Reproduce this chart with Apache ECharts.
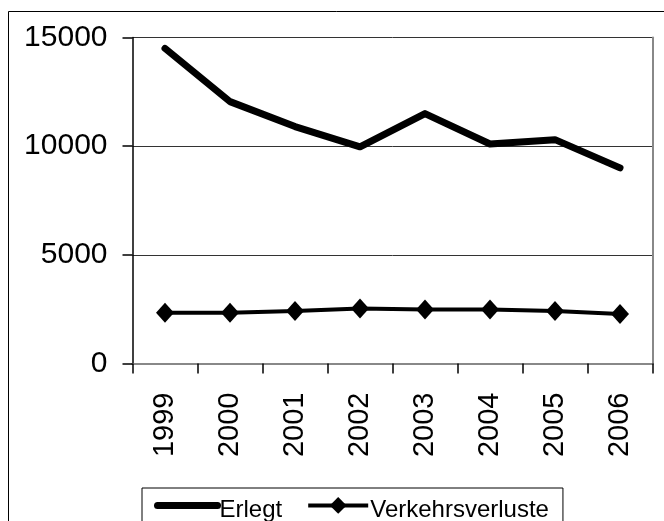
<!DOCTYPE html>
<html><head><meta charset="utf-8">
<script src="https://cdn.jsdelivr.net/npm/echarts@6/dist/echarts.min.js"></script>
<style>html,body{margin:0;padding:0;background:#fff}#c{width:664px;height:521px}</style>
</head><body><div id="c"></div>
<script>
const years = ['1999', '2000', '2001', '2002', '2003', '2004', '2005', '2006'];
const erlegt = [14500, 12050, 10900, 9970, 11500, 10100, 10300, 9000];
const verkehrsverluste = [2330, 2340, 2420, 2530, 2490, 2480, 2410, 2280];
const yMin = 0, yMax = 15000, yStep = 5000;
const seriesNames = ['Erlegt', 'Verkehrsverluste'];

const FONT = '"Liberation Sans", Arial, sans-serif';
const chart = echarts.init(document.getElementById('c'), null, {renderer: 'canvas'});
chart.setOption({
  animation: false,
  backgroundColor: '#fff',
  graphic: [{
    type: 'rect', z: -10, silent: true,
    shape: {x: 8.5, y: 11.5, width: 700, height: 600},
    style: {fill: 'none', stroke: '#000', lineWidth: 1}
  }],
  grid: {left: 132.5, right: 11.5, top: 37.5, bottom: 157.5, containLabel: false},
  xAxis: [{
    type: 'category', data: years, boundaryGap: true,
    axisLine: {lineStyle: {color: '#000', width: 1.5}},
    axisTick: {show: true, length: 10, inside: false, lineStyle: {color: '#000', width: 1.5}},
    axisLabel: {rotate: 90, margin: 29, fontSize: 29, color: '#000', fontFamily: FONT, interval: 0},
    splitLine: {show: false}
  }, {
    type: 'category', data: years, position: 'top',
    axisLine: {lineStyle: {color: '#888', width: 2}},
    axisTick: {show: false}, axisLabel: {show: false}, splitLine: {show: false}
  }],
  yAxis: [{
    type: 'value', min: yMin, max: yMax, interval: yStep,
    axisLine: {show: true, lineStyle: {color: '#000', width: 1.5}},
    axisTick: {show: true, length: 10, lineStyle: {color: '#000', width: 1.5}},
    axisLabel: {margin: 25, fontSize: 30, color: '#000', fontFamily: FONT,
      formatter: function (v) { return String(v); }},
    splitLine: {show: true, lineStyle: {color: '#333', width: 1}}
  }, {
    type: 'value', min: yMin, max: yMax, interval: yStep, position: 'right',
    axisLine: {show: true, lineStyle: {color: '#888', width: 2}},
    axisTick: {show: false}, axisLabel: {show: false}, splitLine: {show: false}
  }],
  legend: {
    left: 142, top: 488, orient: 'horizontal',
    padding: [9, 14, 20, 12], itemGap: 24, itemWidth: 60, itemHeight: 21,
    borderColor: '#000', borderWidth: 1, backgroundColor: '#fff',
    formatter: '{t|{name}}',
    textStyle: {
      fontSize: 24, color: '#000', fontFamily: FONT,
      rich: {t: {fontSize: 24, color: '#000', fontFamily: FONT, padding: [10, 0, 0, -3]}}
    },
    data: [
      {name: seriesNames[0], lineStyle: {width: 7, color: '#000', cap: 'round'}, itemStyle: {opacity: 0}},
      {name: seriesNames[1], lineStyle: {width: 4, color: '#000'}, itemStyle: {color: '#000'}}
    ]
  },
  series: [{
    name: seriesNames[0], type: 'line', data: erlegt,
    symbol: 'none', showSymbol: false,
    lineStyle: {color: '#000', width: 7, cap: 'round', join: 'round'},
    itemStyle: {color: '#000'}, z: 3
  }, {
    name: seriesNames[1], type: 'line', data: verkehrsverluste,
    symbol: 'diamond', symbolSize: [18, 20],
    lineStyle: {color: '#000', width: 4},
    itemStyle: {color: '#000'}, z: 3
  }]
});
</script></body></html>
